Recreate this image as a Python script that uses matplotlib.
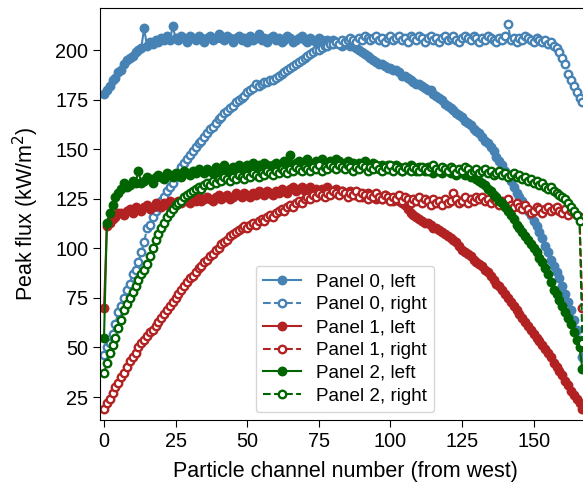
import numpy as np
import matplotlib
matplotlib.use('Agg')
import matplotlib.pyplot as plt

plt.rcParams['font.family'] = ['Liberation Sans', 'DejaVu Sans']

# peak flux per particle channel (kW/m^2)
panel0_left = [
    178, 180, 182, 185, 186, 189, 190, 193, 195, 196, 197, 199,
    200, 201, 211, 202, 204, 203, 205, 204, 206, 205, 207, 205,
    212, 206, 205, 207, 206, 204, 207, 206, 205, 207, 206, 204,
    206, 207, 205, 206, 208, 206, 205, 207, 206, 204, 206, 207,
    205, 206, 204, 207, 205, 206, 208, 205, 206, 204, 206, 207,
    205, 206, 204, 205, 207, 206, 204, 205, 206, 207, 205, 204,
    206, 205, 204, 206, 205, 203, 205, 204, 205, 204, 203, 202,
    204, 203, 202, 202, 201, 200, 199, 198, 197, 196, 195, 194,
    193, 193, 192, 191, 191, 190, 190, 189, 187, 187, 186, 185,
    184, 183, 183, 182, 181, 180, 180, 178, 177, 176, 175, 173,
    172, 171, 170, 168, 167, 166, 164, 163, 162, 160, 159, 158,
    156, 154, 153, 151, 149, 146, 144, 142, 139, 137, 134, 131,
    128, 126, 124, 121, 119, 117, 114, 111, 108, 105, 101, 98,
    94, 91, 88, 85, 81, 77, 73, 69, 64, 59, 54, 45]
panel0_right = [
    46, 50, 52, 57, 62, 68, 71, 75, 79, 82, 87, 89,
    93, 98, 103, 110, 112, 116, 119, 121, 124, 126, 129, 131,
    133, 136, 138, 141, 143, 145, 147, 149, 151, 153, 154, 156,
    158, 160, 161, 163, 165, 166, 168, 169, 171, 172, 174, 175,
    176, 177, 179, 180, 181, 183, 182, 183, 184, 184, 185, 185,
    186, 187, 188, 189, 190, 191, 192, 193, 194, 195, 196, 197,
    198, 199, 200, 200, 201, 202, 202, 203, 203, 204, 203, 205,
    204, 205, 206, 205, 204, 206, 205, 207, 206, 205, 206, 207,
    205, 206, 204, 206, 207, 205, 206, 207, 205, 206, 204, 207,
    206, 205, 207, 206, 204, 206, 207, 205, 206, 204, 206, 207,
    205, 206, 207, 205, 204, 206, 207, 206, 205, 207, 206, 204,
    206, 205, 207, 206, 205, 204, 206, 205, 207, 213, 205, 206,
    204, 206, 205, 207, 206, 205, 204, 206, 205, 204, 205, 203,
    204, 202, 201, 199, 196, 193, 188, 185, 182, 179, 176, 174]
panel1_left = [
    70, 111, 113, 115, 116, 118, 118, 117, 119, 120, 118, 121,
    120, 119, 121, 122, 120, 121, 123, 122, 121, 123, 122, 124,
    123, 122, 124, 123, 125, 124, 123, 125, 124, 126, 124, 125,
    126, 125, 124, 126, 127, 125, 126, 127, 125, 126, 128, 127,
    126, 128, 127, 126, 128, 127, 129, 128, 127, 129, 128, 127,
    129, 128, 130, 129, 128, 130, 131, 129, 130, 131, 129, 130,
    131, 129, 130, 128, 130, 129, 131, 128, 129, 130, 128, 129,
    128, 127, 129, 128, 127, 128, 126, 127, 128, 126, 127, 125,
    126, 125, 127, 126, 125, 124, 125, 124, 123, 122, 120, 118,
    117, 116, 115, 114, 113, 113, 112, 110, 110, 109, 108, 107,
    106, 105, 104, 103, 101, 99, 98, 97, 96, 94, 93, 92,
    91, 89, 88, 86, 84, 82, 81, 79, 77, 75, 73, 71,
    69, 67, 65, 63, 61, 59, 57, 55, 53, 51, 49, 47,
    45, 42, 40, 38, 36, 33, 31, 28, 26, 24, 22, 19]
panel1_right = [
    19, 22, 24, 27, 30, 32, 35, 37, 40, 43, 45, 47,
    50, 52, 54, 56, 58, 59, 61, 63, 65, 67, 69, 71,
    73, 75, 77, 79, 81, 83, 85, 86, 88, 90, 91, 93,
    94, 96, 97, 99, 100, 102, 103, 104, 106, 107, 108, 109,
    110, 111, 110, 112, 113, 112, 114, 115, 114, 116, 117, 116,
    118, 119, 120, 119, 121, 122, 121, 123, 124, 123, 125, 126,
    125, 127, 126, 128, 127, 126, 128, 127, 129, 128, 127, 129,
    128, 126, 128, 127, 129, 126, 128, 127, 125, 127, 126, 128,
    126, 125, 127, 126, 124, 126, 125, 127, 124, 126, 125, 123,
    125, 124, 126, 123, 125, 124, 122, 125, 123, 124, 122, 125,
    123, 124, 128, 125, 123, 124, 126, 123, 125, 124, 126, 125,
    126, 124, 125, 123, 125, 124, 122, 124, 123, 125, 122, 121,
    123, 121, 120, 122, 120, 118, 119, 121, 120, 118, 120, 121,
    119, 120, 121, 119, 118, 120, 117, 119, 118, 117, 116, 70]
panel2_left = [
    55, 113, 118, 122, 126, 128, 130, 133, 131, 132, 134, 133,
    139, 133, 134, 136, 135, 133, 136, 137, 136, 135, 138, 137,
    136, 138, 137, 136, 139, 138, 137, 139, 138, 140, 139, 138,
    140, 139, 138, 141, 139, 140, 142, 140, 139, 141, 140, 142,
    141, 140, 142, 141, 143, 140, 142, 141, 143, 142, 141, 142,
    143, 141, 142, 144, 143, 147, 142, 143, 144, 142, 143, 145,
    143, 142, 144, 143, 145, 143, 142, 144, 143, 145, 144, 142,
    143, 144, 142, 143, 141, 143, 142, 144, 142, 141, 143, 142,
    141, 142, 140, 142, 141, 140, 142, 141, 139, 141, 140, 142,
    140, 139, 141, 140, 139, 141, 140, 138, 140, 139, 138, 140,
    139, 138, 139, 137, 138, 139, 137, 138, 136, 137, 135, 134,
    133, 132, 130, 129, 127, 126, 124, 123, 121, 119, 117, 115,
    112, 110, 108, 106, 104, 102, 100, 98, 95, 93, 90, 87,
    83, 79, 77, 74, 71, 68, 65, 62, 58, 54, 50, 39]
panel2_right = [
    37, 42, 47, 51, 55, 60, 64, 69, 72, 75, 78, 81,
    84, 87, 89, 92, 96, 100, 104, 107, 110, 113, 116, 118,
    120, 122, 123, 124, 126, 127, 128, 129, 130, 131, 130, 132,
    133, 132, 134, 133, 135, 134, 136, 135, 134, 136, 135, 137,
    136, 135, 137, 136, 138, 137, 136, 138, 137, 139, 138, 137,
    139, 138, 140, 139, 138, 140, 139, 141, 140, 139, 141, 140,
    139, 141, 140, 142, 139, 141, 140, 142, 141, 140, 142, 141,
    140, 142, 141, 139, 141, 140, 142, 141, 139, 141, 140, 142,
    140, 139, 141, 140, 142, 139, 141, 140, 139, 141, 140, 139,
    141, 140, 139, 141, 140, 139, 141, 142, 140, 139, 141, 140,
    139, 141, 140, 138, 140, 139, 141, 140, 138, 139, 140, 138,
    139, 140, 138, 139, 137, 138, 139, 137, 138, 136, 137, 138,
    136, 137, 135, 136, 134, 135, 133, 134, 132, 133, 131, 130,
    131, 129, 128, 127, 126, 125, 123, 121, 119, 117, 114, 52]

channels = np.arange(len(panel0_left))

series = [
    ('Panel 0, left', panel0_left, 'steelblue', '-', True),
    ('Panel 0, right', panel0_right, 'steelblue', '--', False),
    ('Panel 1, left', panel1_left, 'firebrick', '-', True),
    ('Panel 1, right', panel1_right, 'firebrick', '--', False),
    ('Panel 2, left', panel2_left, 'darkgreen', '-', True),
    ('Panel 2, right', panel2_right, 'darkgreen', '--', False),
]

fig = plt.figure(figsize=(5.83, 4.93), dpi=100)
# axes run past the right edge of the figure, like the cropped original
ax = fig.add_axes([100/583, 73/493, 491/583, 412/493])

for label, vals, col, ls, filled in series:
    ax.plot(channels, vals, color=col, linestyle=ls, linewidth=1.5,
            marker='o', markersize=5.4,
            markerfacecolor=col if filled else 'white',
            markeredgecolor=col, markeredgewidth=1.7, label=label)

ax.set_xlim(-1.4, 170)
ax.set_ylim(13.4, 221.2)
ax.set_xticks([0, 25, 50, 75, 100, 125, 150])
ax.set_yticks([25, 50, 75, 100, 125, 150, 175, 200])
ax.tick_params(labelsize=14.3, length=5)
ax.set_xlabel('Particle channel number (from west)', fontsize=15.5, labelpad=7)
ax.set_ylabel('Peak flux (kW/m$^2$)', fontsize=15.5, labelpad=10)

ax.legend(loc='lower center', bbox_to_anchor=(0.499, 0.0), fontsize=13.6,
          labelspacing=0.3, framealpha=0.8, borderaxespad=0.4)

fig.savefig('out.png', dpi=100)
